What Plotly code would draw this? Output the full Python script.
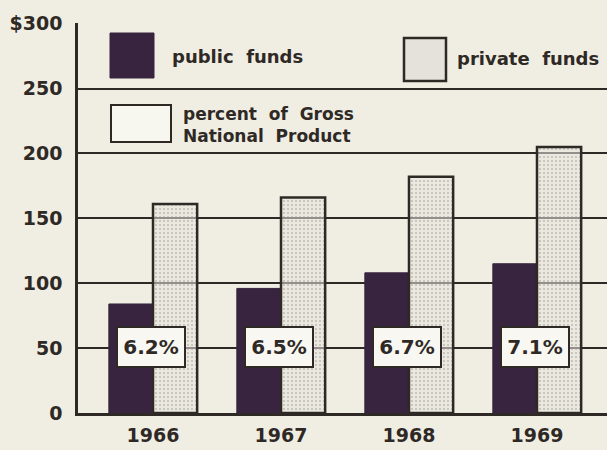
import plotly.graph_objects as go

years = ["1966", "1967", "1968", "1969"]
public_funds = [84, 96, 108, 115]
private_funds = [161, 166, 182, 205]
gnp_percent = ["6.2%", "6.5%", "6.7%", "7.1%"]
y_tickvals = [0, 50, 100, 150, 200, 250, 300]
y_ticktext = ["0", "50", "100", "150", "200", "250", "$300"]

INK = "#2f2926"
BG = "#f0eee3"
DARK = "#38243f"
FONT = "DejaVu Sans"

fig = go.Figure()
fig.add_trace(go.Bar(
    x=years, y=public_funds, name="public funds",
    marker=dict(color=DARK, line=dict(color=DARK, width=1)),
))
fig.add_trace(go.Bar(
    x=years, y=private_funds, name="private funds",
    marker=dict(
        color="rgba(230,228,220,0.55)",
        line=dict(color=INK, width=2.5),
        pattern=dict(shape=".", fgcolor="#8f8d86", bgcolor="rgba(230,228,220,0.55)",
                     size=4, solidity=0.2, fillmode="overlay"),
    ),
))

# percent-of-GNP labels (placed by category index on the category axis)
for i, txt in enumerate(gnp_percent):
    fig.add_annotation(
        x=i, y=51, xref="x", yref="y", text=txt, showarrow=False,
        xshift=-2,
        font=dict(family=FONT, size=20, color=INK, weight="bold"),
        bgcolor="#f8f7f1", bordercolor=INK, borderwidth=2,
        width=64, height=36,
    )

# legend (drawn manually)
def px_x(p):
    return (p - 78) / 529.0

def px_y(p):
    return (413 - p) / 390.0

fig.add_shape(type="rect", xref="paper", yref="paper",
              x0=px_x(110), x1=px_x(154), y0=px_y(78), y1=px_y(33),
              fillcolor=DARK, line=dict(color=DARK, width=1))
fig.add_annotation(xref="paper", yref="paper", x=px_x(170), y=px_y(56),
                   xanchor="left", yanchor="middle", showarrow=False,
                   text="public  funds",
                   font=dict(family=FONT, size=18, color=INK, weight="bold"))
fig.add_shape(type="rect", xref="paper", yref="paper",
              x0=px_x(404), x1=px_x(446), y0=px_y(81), y1=px_y(38),
              fillcolor="#e4e2da", line=dict(color=INK, width=2.5))
fig.add_annotation(xref="paper", yref="paper", x=px_x(455), y=px_y(58),
                   xanchor="left", yanchor="middle", showarrow=False,
                   text="private  funds",
                   font=dict(family=FONT, size=18, color=INK, weight="bold"))
fig.add_shape(type="rect", xref="paper", yref="paper",
              x0=px_x(111), x1=px_x(171), y0=px_y(142), y1=px_y(105),
              fillcolor="#f7f6ef", line=dict(color=INK, width=2))
fig.add_annotation(xref="paper", yref="paper", x=px_x(181), y=px_y(125),
                   xanchor="left", yanchor="middle", align="left", showarrow=False,
                   text="percent  of  Gross<br>National  Product",
                   font=dict(family=FONT, size=17, color=INK, weight="bold"))

fig.update_layout(
    width=607, height=450,
    margin=dict(l=78, r=0, t=23, b=37),
    paper_bgcolor=BG, plot_bgcolor=BG,
    barmode="group", bargap=0.31, bargroupgap=0,
    showlegend=False,
    font=dict(family=FONT, color=INK),
)
fig.update_xaxes(
    type="category", range=[-0.586, 3.547],
    showgrid=False, showline=True, linecolor=INK, linewidth=3,
    ticks="", tickfont=dict(family=FONT, size=19, color=INK, weight="bold"),
    ticklabelstandoff=3,
)
fig.update_yaxes(
    range=[0, 300.5], tickvals=y_tickvals, ticktext=y_ticktext,
    showgrid=True, gridcolor=INK, gridwidth=2,
    showline=True, linecolor=INK, linewidth=2.5,
    zeroline=False, ticks="",
    tickfont=dict(family=FONT, size=19, color=INK, weight="bold"),
    ticklabelstandoff=9,
)

fig.write_html("out.html")
